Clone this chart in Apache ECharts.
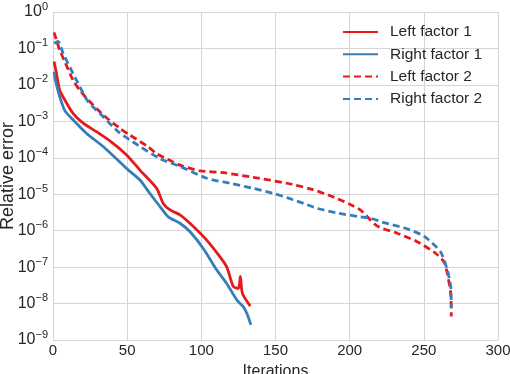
<!DOCTYPE html>
<html>
<head>
<meta charset="utf-8">
<script src="https://cdn.jsdelivr.net/npm/echarts@6/dist/echarts.min.js"></script>
<style>
html,body{margin:0;padding:0;background:#fff;}
#chart{width:510px;height:374px;}
</style>
</head>
<body>
<div id="chart"></div>
<script>
// ---- data ----
const seriesNames = ['Left factor 1', 'Right factor 1', 'Left factor 2', 'Right factor 2'];

const leftF1Iter = [0.7, 2.3, 4.5, 7.9, 13.5, 20.3, 29.3, 40.5, 49.6, 58.6, 69.9, 74.3, 78.9, 85.6, 94.6, 103.6, 112.6, 117.2, 121.6, 125.0, 126.3, 127.7, 133.0];
const leftF1Val  = [4.4e-2, 2.1e-2, 7.2e-3, 3.9e-3, 1.66e-3, 8.9e-4, 5.2e-4, 2.5e-4, 1.2e-4, 4.6e-5, 1.45e-5, 5.6e-6, 3.7e-6, 2.7e-6, 1.3e-6, 5.5e-7, 1.9e-7, 1.0e-7, 2.9e-8, 2.6e-8, 5.6e-8, 1.9e-8, 8.5e-9];

const rightF1Iter = [0.7, 1.5, 4.5, 7.9, 13.5, 22.5, 34.0, 49.6, 58.6, 65.3, 72.1, 77.7, 85.6, 92.4, 101.4, 110.4, 117.2, 123.9, 128.4, 131.0, 133.4];
const rightF1Val  = [2.3e-2, 1.4e-2, 4.8e-3, 2.0e-3, 1.1e-3, 4.7e-4, 2.0e-4, 5.1e-5, 2.45e-5, 1.05e-5, 4.6e-6, 2.4e-6, 1.6e-6, 9.3e-7, 3.2e-7, 8.3e-8, 3.5e-8, 1.26e-8, 8.1e-9, 5.0e-9, 2.6e-9];

const leftF2Iter = [0.7, 4.5, 7.9, 13.5, 18.0, 23.6, 33.8, 45.0, 51.8, 64.2, 69.9, 85.6, 99.1, 114.9, 135.1, 157.7, 173.4, 186.9, 200.5, 207.2, 218.5, 232.0, 245.5, 257.9, 263.5, 265.8, 268.1, 268.5];
const leftF2Val  = [2.75e-1, 9.1e-2, 4.4e-2, 1.35e-2, 7.2e-3, 3.9e-3, 1.5e-3, 6.5e-4, 4.2e-4, 2.0e-4, 1.3e-4, 6.3e-5, 4.4e-5, 3.9e-5, 2.9e-5, 2.0e-5, 1.4e-5, 9.1e-6, 5.2e-6, 3.7e-6, 1.35e-6, 8.5e-7, 5.0e-7, 2.4e-7, 1.4e-7, 6.8e-8, 1.9e-8, 4.4e-9];

const rightF2Iter = [0.7, 3.4, 6.8, 10.1, 15.8, 23.6, 32.7, 43.9, 57.4, 72.1, 85.6, 103.6, 119.4, 135.1, 148.6, 158.8, 168.9, 178.0, 192.6, 207.2, 214.0, 223.0, 236.5, 250.0, 261.3, 265.8, 268.1, 268.5];
const rightF2Val  = [1.38e-1, 1.55e-1, 7.4e-2, 3.9e-2, 1.35e-2, 3.5e-3, 1.5e-3, 5.2e-4, 2.2e-4, 9.5e-5, 5.8e-5, 2.75e-5, 2.0e-5, 1.45e-5, 1.05e-5, 7.8e-6, 5.6e-6, 4.1e-6, 3.0e-6, 2.4e-6, 2.2e-6, 1.66e-6, 1.2e-6, 7.1e-7, 2.6e-7, 8.3e-8, 2.9e-8, 7.4e-9];

const xTicks = [0, 50, 100, 150, 200, 250, 300];
const yExponents = [0, -1, -2, -3, -4, -5, -6, -7, -8, -9];

// ---- chart ----
const RED = '#e41a1c', BLUE = '#377eb8', TXT = '#262626', GRID = '#d5d5d5';
const FONT = '"Liberation Sans", Arial, sans-serif';

function pairs(xs, ys) { return xs.map((x, i) => [x, ys[i]]); }

function mkSeries(name, xs, ys, color, dashed) {
  return {
    name: name, type: 'line', data: pairs(xs, ys),
    symbol: 'none', smooth: 0.25, animation: false,
    lineStyle: { color: color, width: 2.8, type: dashed ? [7, 4] : 'solid' },
    itemStyle: { color: color }
  };
}

const chart = echarts.init(document.getElementById('chart'), null, { renderer: 'canvas' });
chart.setOption({
  animation: false,
  backgroundColor: '#ffffff',
  textStyle: { fontFamily: FONT },
  grid: { left: 53, right: 12, top: 12, bottom: 34, show: false, containLabel: false, outerBoundsMode: 'none' },
  legend: {
    data: seriesNames,
    orient: 'vertical',
    left: 337, top: 19,
    itemWidth: 35, itemHeight: 14, itemGap: 6.3,
    itemStyle: { opacity: 0 },
    textStyle: { fontFamily: FONT, fontSize: 15.5, lineHeight: 16, color: TXT, padding: [0, 0, 0, 7] }
  },
  xAxis: {
    type: 'value', min: xTicks[0], max: xTicks[xTicks.length - 1], interval: 50,
    name: 'Iterations', nameLocation: 'middle', nameGap: 24, nameMoveOverlap: false,
    nameTextStyle: { fontFamily: FONT, fontSize: 16, color: TXT },
    axisLine: { show: false }, axisTick: { show: false },
    axisLabel: { fontFamily: FONT, fontSize: 15, color: TXT, margin: 3 },
    splitLine: { show: true, lineStyle: { color: GRID, width: 1 } }
  },
  yAxis: {
    type: 'log', logBase: 10,
    min: Math.pow(10, yExponents[yExponents.length - 1]), max: Math.pow(10, yExponents[0]),
    name: 'Relative error', nameLocation: 'middle', nameGap: 36, nameRotate: 90, nameMoveOverlap: false,
    nameTextStyle: { fontFamily: FONT, fontSize: 18, color: TXT },
    axisLine: { show: false }, axisTick: { show: false },
    axisLabel: {
      margin: 5,
      formatter: function (v) {
        const e = Math.round(Math.log10(v));
        return '{b|10}{s|' + (e === 0 ? '0' : '\u2212' + (-e)) + '}';
      },
      rich: {
        b: { fontFamily: FONT, fontSize: 16, color: TXT },
        s: { fontFamily: FONT, fontSize: 11, color: TXT, padding: [0, 0, 11, 0] }
      }
    },
    splitLine: { show: true, lineStyle: { color: GRID, width: 1 } }
  },
  series: [
    mkSeries(seriesNames[0], leftF1Iter, leftF1Val, RED, false),
    mkSeries(seriesNames[1], rightF1Iter, rightF1Val, BLUE, false),
    mkSeries(seriesNames[2], leftF2Iter, leftF2Val, RED, true),
    mkSeries(seriesNames[3], rightF2Iter, rightF2Val, BLUE, true)
  ]
});
</script>
</body>
</html>
